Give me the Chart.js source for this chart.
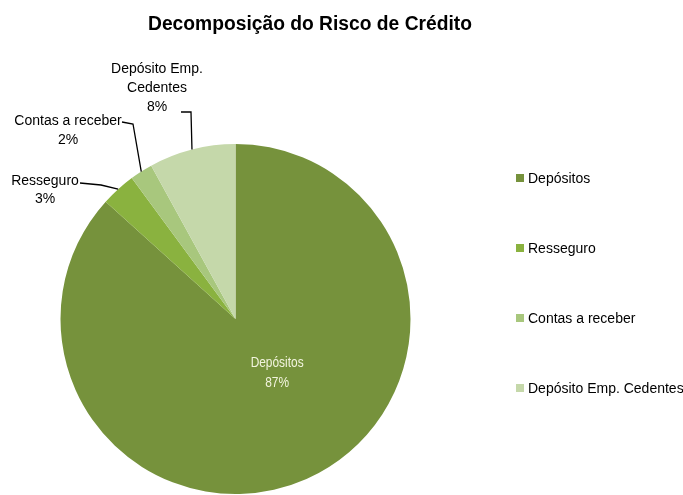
<!DOCTYPE html>
<html>
<head>
<meta charset="utf-8">
<script src="https://cdn.jsdelivr.net/npm/chart.js@4/dist/chart.umd.min.js"></script>
<style>
html,body{margin:0;padding:0;background:#fff;}
#wrap{width:683px;height:495px;position:relative;}
</style>
</head>
<body>
<div id="wrap"><canvas id="c" width="683" height="495"></canvas></div>
<script>
const title = "Decomposição do Risco de Crédito";
const categories = ["Depósitos", "Resseguro", "Contas a receber", "Depósito Emp. Cedentes"];
const values = [86.7, 3.2, 2.1, 8.0];
const percentLabels = ["87%", "3%", "2%", "8%"];
const colors = ["#76923C", "#8AB23F", "#A8C77D", "#C5D8AA"];

const FONT = "'Liberation Sans', Arial, sans-serif";

// label layout (text block positions and leader elbows), index-aligned to categories
const outside = {
  1: {lines: ["Resseguro", "3%"], x: 45, y: 181, lh: 18, elbow: [[80, 183], [101, 185]]},
  2: {lines: ["Contas a receber", "2%"], x: 68, y: 121, lh: 19, elbow: [[122, 122], [133, 124]]},
  3: {lines: ["Depósito Emp.", "Cedentes", "8%"], x: 157, y: 69, lh: 19, elbow: [[181, 112], [191, 112]]}
};

function scaledText(ctx, text, x, y, s) {
  ctx.save();
  ctx.translate(x, y);
  ctx.scale(s, 1);
  ctx.fillText(text, 0, 0);
  ctx.restore();
}

const overlay = {
  id: 'overlay',
  afterDraw(chart) {
    const ctx = chart.ctx;
    const meta = chart.getDatasetMeta(0);
    ctx.save();
    // title
    ctx.fillStyle = "#000";
    ctx.font = "bold 20px " + FONT;
    ctx.textAlign = "center";
    ctx.textBaseline = "alphabetic";
    scaledText(ctx, title, 310, 30, 324 / ctx.measureText(title).width);

    ctx.textBaseline = "middle";
    // inside label for largest slice
    const a0 = meta.data[0];
    const mid0 = (a0.startAngle + a0.endAngle) / 2;
    const r0 = a0.outerRadius * 0.375;
    const ix = a0.x + Math.cos(mid0) * r0 + 15, iy = a0.y + Math.sin(mid0) * r0 - 6;
    ctx.fillStyle = "#F2F4DE";
    ctx.font = "15px " + FONT;
    const s0 = 53 / ctx.measureText(categories[0]).width;
    scaledText(ctx, categories[0], ix, iy - 10, s0);
    scaledText(ctx, percentLabels[0], ix, iy + 10, s0);

    // outside labels with leaders
    Object.keys(outside).forEach(k => {
      const i = +k, o = outside[k];
      const a = meta.data[i];
      const mid = (a.startAngle + a.endAngle) / 2;
      const ax = a.x + Math.cos(mid) * a.outerRadius;
      const ay = a.y + Math.sin(mid) * a.outerRadius;
      ctx.fillStyle = "#000";
      ctx.font = "14px " + FONT;
      o.lines.forEach((t, j) => ctx.fillText(t, o.x, o.y + j * o.lh));
      ctx.strokeStyle = "#000";
      ctx.lineWidth = 1.3;
      ctx.beginPath();
      ctx.moveTo(o.elbow[0][0], o.elbow[0][1]);
      ctx.lineTo(o.elbow[1][0], o.elbow[1][1]);
      ctx.lineTo(ax, ay);
      ctx.stroke();
    });

    // legend
    ctx.textAlign = "left";
    categories.forEach((c, i) => {
      const y = 178 + i * 70;
      ctx.fillStyle = colors[i];
      ctx.fillRect(516, y - 4, 8, 8);
      ctx.fillStyle = "#000";
      ctx.font = "14px " + FONT;
      ctx.fillText(c, 528, y + 1);
    });
    ctx.restore();
  }
};

new Chart(document.getElementById('c'), {
  type: 'pie',
  data: {
    labels: categories,
    datasets: [{
      data: values,
      backgroundColor: colors,
      borderWidth: 0
    }]
  },
  options: {
    responsive: false,
    animation: false,
    layout: {padding: {left: 60, right: 272, top: 144, bottom: 1}},
    plugins: {
      legend: {display: false},
      title: {display: false},
      tooltip: {enabled: false}
    }
  },
  plugins: [overlay]
});
</script>
</body>
</html>
